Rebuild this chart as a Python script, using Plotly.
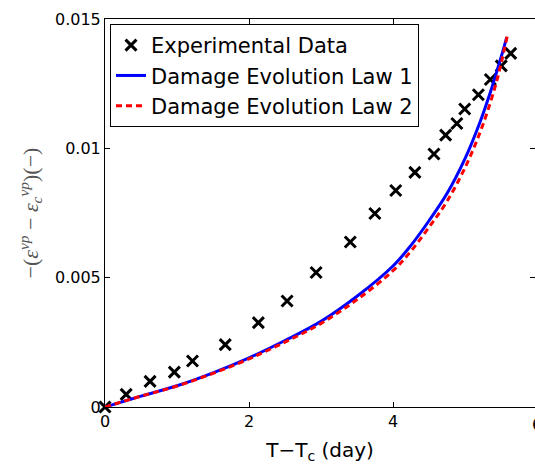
import plotly.graph_objects as go

# ---- data ----
exp_x = [0.0, 0.294, 0.626, 0.963, 1.215, 1.670, 2.130, 2.529, 2.932, 3.407, 3.748,
         4.038, 4.304, 4.569, 4.731, 4.887, 4.996, 5.186, 5.352, 5.504, 5.635]
exp_y = [0.0, 0.00049, 0.00099, 0.00135, 0.00178, 0.00241, 0.00326, 0.00410, 0.00520,
         0.00638, 0.00748, 0.00837, 0.00907, 0.00978, 0.01051, 0.01096, 0.01152,
         0.01207, 0.01266, 0.01319, 0.01367]

law1_x = [0.0, 0.5, 1.0, 1.5, 2.0, 2.5, 3.0, 3.5, 4.0, 4.25, 4.5, 4.75, 5.0,
          5.2, 5.35, 5.45, 5.52, 5.579]
law1_y = [0.0, 0.00042, 0.00082, 0.00132, 0.00190, 0.00257, 0.00331, 0.00428, 0.00545,
          0.00625, 0.00720, 0.00825, 0.00960, 0.01095, 0.01215, 0.01305, 0.01370, 0.01429]

law2_x = [0.0, 0.5, 1.0, 1.5, 2.0, 2.5, 3.0, 3.5, 4.0, 4.25, 4.5, 4.75, 5.0,
          5.2, 5.35, 5.45, 5.52, 5.585]
law2_y = [0.0, 0.00042, 0.00081, 0.00130, 0.00186, 0.00251, 0.00323, 0.00415, 0.00527,
          0.00603, 0.00695, 0.00795, 0.00925, 0.01055, 0.01175, 0.01270, 0.01350, 0.01432]

names = ["Experimental Data", "Damage Evolution Law 1", "Damage Evolution Law 2"]

x_tickvals = [0, 2, 4]
x_ticktext = ["0", "2", "4"]
x_edge_tick = 6
y_tickvals = [0, 0.005, 0.01, 0.015]
y_ticktext = ["0", "0.005", "0.01", "0.015"]

# ---- layout geometry ----
W, H = 535, 471
ML, MT, MB = 105, 19, 64
x_full_px = 432          # pixel length of the 0..6 axis in the reference
x_max = x_edge_tick * (W - ML) / x_full_px

font_main = "DejaVu Sans, Liberation Sans, Arial, sans-serif"

fig = go.Figure()
fig.add_trace(go.Scatter(
    x=exp_x, y=exp_y, mode="markers", name=names[0], cliponaxis=False,
    marker=dict(symbol="x-thin", size=11, color="black",
                line=dict(color="black", width=3))))
fig.add_trace(go.Scatter(
    x=law1_x, y=law1_y, mode="lines", name=names[1], line_shape="spline",
    line=dict(color="#0000ff", width=3)))
fig.add_trace(go.Scatter(
    x=law2_x, y=law2_y, mode="lines", name=names[2], line_shape="spline",
    line=dict(color="#ff0000", width=3, dash="6px,4px")))

fig.update_layout(
    width=W, height=H,
    margin=dict(l=ML, r=0, t=MT, b=MB),
    paper_bgcolor="white", plot_bgcolor="white",
    font=dict(family=font_main, size=16, color="black"),
    showlegend=True,
    legend=dict(x=(110 - ML) / (W - ML), y=(H - MB - 24) / (H - MB - MT),
                xanchor="left", yanchor="top",
                bgcolor="white", bordercolor="black", borderwidth=1,
                font=dict(family=font_main, size=21, color="black"),
                tracegroupgap=0, itemwidth=30),
    xaxis=dict(range=[0, x_max], tickvals=x_tickvals, ticktext=x_ticktext,
               showgrid=False, zeroline=False, showline=True, linecolor="black",
               linewidth=1, mirror="ticks", ticks="inside", ticklen=5,
               tickcolor="black", tickfont=dict(size=16),
               title=dict(text="T\u2212T<sub>c</sub> (day)",
                          font=dict(family=font_main, size=20), standoff=12)),
    yaxis=dict(range=[0, 0.015], tickvals=y_tickvals, ticktext=y_ticktext,
               showgrid=False, zeroline=False, showline=True, linecolor="black",
               linewidth=1, mirror="ticks", ticks="inside", ticklen=5,
               tickcolor="black", tickfont=dict(size=16),
               title=dict(text="\u2212(<i>\u03b5</i><sup><i>vp</i></sup> \u2212 "
                               "<i>\u03b5</i><sub><i>c</i></sub><sup><i>vp</i></sup>)(\u2212)",
                          font=dict(family="Liberation Serif, DejaVu Serif, serif",
                                    size=22, color="#555555"), standoff=10)),
)

# the "6" tick label sits at the cut edge of the figure
fig.add_annotation(x=x_edge_tick / x_max, y=0, xref="paper", yref="paper",
                   text=str(x_edge_tick), showarrow=False, xanchor="center",
                   yanchor="top", yshift=-6,
                   font=dict(family=font_main, size=16, color="black"))

fig.write_html("out.html")
